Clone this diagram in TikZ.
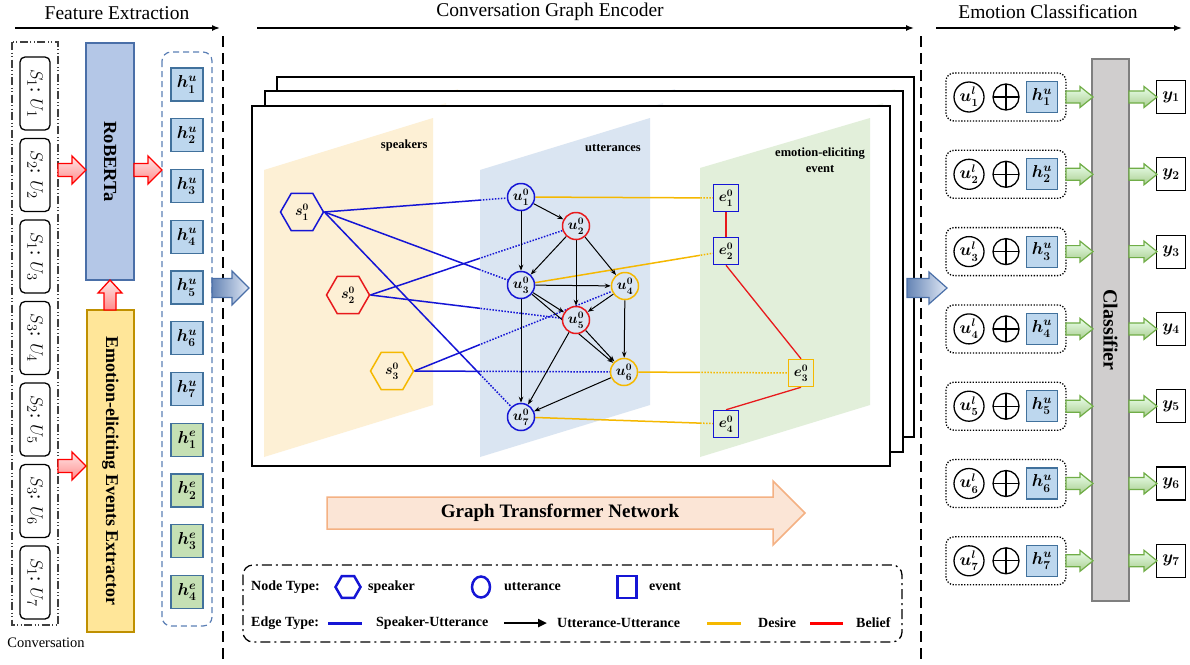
\documentclass[tikz,border=0pt]{standalone}
\usepackage{amsmath}
\usepackage{fontspec}
\setmainfont{Liberation Serif}
\usetikzlibrary{shapes.geometric,arrows.meta,calc}
\pgfdeclarelayer{lay0}\pgfdeclarelayer{lay1}
\pgfsetlayers{lay0,lay1,main}
\definecolor{cblue}{HTML}{1515D5}
\definecolor{cred}{HTML}{E8191C}
\definecolor{cyel}{HTML}{F5B800}
\definecolor{hub}{HTML}{BDD7EE}
\definecolor{hubd}{HTML}{41719C}
\definecolor{heg}{HTML}{C5E0B4}
\definecolor{robf}{HTML}{B4C7E7}
\definecolor{robd}{HTML}{4A6FA8}
\definecolor{emof}{HTML}{FFE699}
\definecolor{emod}{HTML}{BF9000}
\definecolor{spk}{HTML}{FDF0D5}
\definecolor{utt}{HTML}{DAE5F2}
\definecolor{evt}{HTML}{E2EFDA}
\definecolor{gtnf}{HTML}{FBE5D6}
\definecolor{gtnd}{HTML}{F4B183}
\definecolor{clsf}{HTML}{D0CECE}
\definecolor{clsd}{HTML}{7F7F7F}
\definecolor{grnd}{HTML}{70AD47}
\definecolor{dashb}{HTML}{5B7FB5}
\newcommand{\hArr}[7]{\path[#7] (#1,{#3-#4}) -- ({#2-#6},{#3-#4}) -- ({#2-#6},{#3-#5}) -- (#2,#3) -- ({#2-#6},{#3+#5}) -- ({#2-#6},{#3+#4}) -- (#1,{#3+#4}) -- cycle;}
\newcommand{\planeset}[1]{%
 \fill[spk,#1] (264,170) -- (433,118) -- (433,405) -- (264,457) -- cycle;
 \fill[utt,#1] (480,170) -- (650,118) -- (650,405) -- (480,457) -- cycle;
 \fill[evt,#1] (700,168) -- (870,118) -- (870,405) -- (700,457) -- cycle;}
\begin{document}
\begin{tikzpicture}[x=1pt,y=-1pt,
  hdr/.style={font=\fontsize{19.5}{20}\selectfont},
  uttbox/.style={draw, rounded corners=5, line width=1.3, rotate=-90, minimum width=73, minimum height=30, inner sep=0, font=\fontsize{19}{19}\selectfont},
  hbox/.style={draw=hubd, fill=hub, line width=1.2, minimum width=32, minimum height=33, inner sep=0, font=\fontsize{17.5}{17.5}\selectfont\boldmath},
  ebox/.style={hbox, fill=heg},
  spknode/.style={regular polygon, regular polygon sides=6, minimum size=43, inner sep=0, line width=1.5, fill=spk, font=\fontsize{14.5}{14.5}\selectfont\boldmath},
  uttnode/.style={circle, minimum size=27, inner sep=0, line width=1.5, fill=utt, font=\fontsize{14.5}{14.5}\selectfont\boldmath},
  evtnode/.style={rectangle, minimum width=25, minimum height=27, inner sep=0, line width=1.5, fill=evt, font=\fontsize{14.5}{14.5}\selectfont\boldmath},
  suedge/.style={draw=cblue, line width=1.5},
  uuedge/.style={draw=black, line width=1, -{Stealth[length=6pt,width=4.5pt]}},
  desire/.style={draw=cyel, line width=1.5},
  belief/.style={draw=cred, line width=1.3},
  dots/.style={dash pattern=on 1.5pt off 1.5pt},
  redarr/.style={draw=red, line width=1.3, top color=red!10, bottom color=red!45},
  bluearr/.style={draw=robd, line width=1.2, left color=robd!85, right color=robf!40},
  grnarr/.style={draw=grnd, line width=1.2, top color=green!8, bottom color=grnd!60},
  hdrarrow/.style={line width=1.5, -{Latex[length=8pt,width=6pt]}},
  vdash/.style={line width=1.6, dash pattern=on 11pt off 6pt},
  lgtext/.style={anchor=west, font=\bfseries\fontsize{14}{14}\selectfont, inner sep=0},
  rowbox/.style={draw, rounded corners=8, line width=1.3, dash pattern=on 1.3pt off 1.6pt, minimum width=120, minimum height=48},
  ulnode/.style={circle, draw, line width=1.3, minimum size=30, inner sep=0, font=\fontsize{16}{16}\selectfont\boldmath},
  opnode/.style={circle, draw, line width=1.3, minimum size=26, inner sep=0, fill=white, path picture={\draw[line width=1.3] (path picture bounding box.north) -- (path picture bounding box.south) (path picture bounding box.west) -- (path picture bounding box.east);}},
  ybox/.style={draw, line width=1.2, minimum width=29, minimum height=33, inner sep=0, fill=white, font=\fontsize{18}{18}\selectfont\boldmath}
]
\useasboundingbox (0,0) rectangle (1190,664);

% ---------- headers ----------
\node[hdr] (t1) at (117,13) {Feature Extraction};
\node[hdr] (t2) at (550,12) {Conversation Graph Encoder};
\node[hdr] (t3) at (1048,12) {Emotion Classification};
\coordinate (a1s) at (15,28); \coordinate (a1e) at (220,28);
\coordinate (a2s) at (257,28); \coordinate (a2e) at (914,28);
\coordinate (a3s) at (936,28); \coordinate (a3e) at (1182,28);
\draw[hdrarrow] (a1s) -- (a1e);
\draw[hdrarrow] (a2s) -- (a2e);
\draw[hdrarrow] (a3s) -- (a3e);
\coordinate (d1s) at (223,36); \coordinate (d1e) at (223,664);
\coordinate (d2s) at (921,36); \coordinate (d2e) at (921,664);
\draw[vdash] (d1s) -- (d1e);
\draw[vdash] (d2s) -- (d2e);

% ---------- feature extraction ----------
\draw[line width=1.2, draw=black!75, dash pattern=on 8pt off 2.5pt on 1pt off 2.5pt on 1pt off 2.5pt] (12,42) rectangle (58,625);
\node[font=\fontsize{14.5}{15}\selectfont] (convlbl) at (46,643) {Conversation};
\foreach \i/\s in {1/1,2/2,3/1,4/3,5/2,6/3,7/1}{
  \node[uttbox] (c\i) at (35,{93.5+81.5*(\i-1)}) {$S_{\s}$: $U_{\i}$};
}
\node[draw=robd, fill=robf, line width=1.3, rotate=-90, minimum width=237, minimum height=48, inner sep=0, font=\bfseries\fontsize{18.5}{19}\selectfont] (rob) at (110,161.5) {RoBERTa};
\node[draw=emod, fill=emof, line width=1.3, rotate=-90, minimum width=322, minimum height=47, inner sep=0, font=\bfseries\fontsize{18}{19}\selectfont] (emo) at (110.5,471) {Emotion-eliciting Events Extractor};
\draw[dashb, line width=1.2, rounded corners=9, dash pattern=on 6pt off 4pt] (162,52) rectangle (212,626);
\foreach \i in {1,...,7}{
  \node[hbox] (hu\i) at (187,{84.5+50.75*(\i-1)}) {$h^u_{\i}$};
}
\foreach \i in {1,...,4}{
  \node[ebox] (he\i) at (187,{84.5+50.75*(\i+6)}) {$h^e_{\i}$};
}
\hArr{58}{86}{170}{6.5}{14}{14}{redarr}
\hArr{58}{86}{466}{6.5}{14}{14}{redarr}
\hArr{134}{162}{170}{6.5}{14}{14}{redarr}
\path[redarr] (104,310) -- (104,293) -- (98,293) -- (110,280) -- (122,293) -- (116,293) -- (116,310) -- cycle;
\hArr{212}{249}{288}{9.5}{17}{17}{bluearr}
\hArr{907}{947}{288}{9.5}{16}{18}{bluearr}

% ---------- graph frames ----------
\begin{pgfonlayer}{lay0}
\fill[white] (277,77) rectangle (914,437);
\begin{scope}\clip (277,77) rectangle (914,437);
  \begin{scope}[shift={(25,-29)}]\planeset{opacity=0.55}\end{scope}
\end{scope}
\draw[line width=2] (277,77) rectangle (914,437);
\fill[white] (265,91) rectangle (903,452);
\begin{scope}\clip (265,91) rectangle (903,452);
  \begin{scope}[shift={(13,-15)}]\planeset{opacity=0.55}\end{scope}
\end{scope}
\draw[line width=2] (265,91) rectangle (903,452);
\fill[white] (252,106) rectangle (890,466);
\planeset{}
\draw[line width=2] (252,106) rectangle (890,466);
\end{pgfonlayer}

\node[anchor=east, font=\bfseries\fontsize{12.5}{13}\selectfont] (lspk) at (431,145) {speakers};
\node[font=\bfseries\fontsize{12.5}{13}\selectfont] (lutt) at (613,148) {utterances};
\node[align=center, font=\bfseries\fontsize{12.5}{16}\selectfont] (levt) at (820,160) {emotion-eliciting\\event};

% nodes
\node[spknode, draw=cblue] (s1) at (302,212) {$s^0_1$};
\node[spknode, draw=cred] (s2) at (348,295) {$s^0_2$};
\node[spknode, draw=cyel] (s3) at (392,371) {$s^0_3$};
\node[uttnode, draw=cblue] (u1) at (521,197) {$u^0_1$};
\node[uttnode, draw=cred] (u2) at (576,226) {$u^0_2$};
\node[uttnode, draw=cblue] (u3) at (521,285) {$u^0_3$};
\node[uttnode, draw=cyel] (u4) at (625,286) {$u^0_4$};
\node[uttnode, draw=cred] (u5) at (576,320) {$u^0_5$};
\node[uttnode, draw=cyel] (u6) at (624,372) {$u^0_6$};
\node[uttnode, draw=cblue] (u7) at (521,417) {$u^0_7$};
\node[evtnode, draw=cblue] (e1) at (726,198) {$e^0_1$};
\node[evtnode, draw=cblue] (e2) at (726,251) {$e^0_2$};
\node[evtnode, draw=cyel] (e3) at (801,373) {$e^0_3$};
\node[evtnode, draw=cblue] (e4) at (726,424) {$e^0_4$};

\begin{pgfonlayer}{lay1}
\begin{scope}
  \clip (0,0) rectangle (480,664);
  \foreach \a/\b in {s1/u1,s1/u3,s1/u7,s2/u2,s2/u5,s3/u4,s3/u6}{\draw[suedge] (\a.east) -- (\b);}
\end{scope}
\begin{scope}
  \clip (480,0) rectangle (1190,664);
  \foreach \a/\b in {s1/u1,s1/u3,s1/u7,s2/u2,s2/u5,s3/u4,s3/u6}{\draw[suedge, dots] (\a.east) -- (\b);}
\end{scope}
\begin{scope}
  \clip (0,0) rectangle (700,664);
  \foreach \a/\b in {u1/e1,u3/e2,u6/e3,u7/e4}{\draw[desire] (\a) -- (\b);}
\end{scope}
\begin{scope}
  \clip (700,0) rectangle (1190,664);
  \foreach \a/\b in {u1/e1,u3/e2,u6/e3,u7/e4}{\draw[desire, dots] (\a) -- (\b);}
\end{scope}
\foreach \a/\b in {u1/u2,u1/u3,u2/u3,u2/u4,u2/u5,u3/u4,u3/u5,u3/u6,u3/u7,u4/u5,u4/u6,u5/u6,u5/u7,u6/u7}{\draw[uuedge] (\a) -- (\b);}
\draw[belief] (e1) -- (e2);
\draw[belief] (e2.south) -- (e3.north);
\draw[belief] (e3.south) -- (e4.north);
\end{pgfonlayer}

% Graph transformer network arrow
\path[draw=gtnd, fill=gtnf, line width=1.5] (327,497) -- (773,497) -- (773,481) -- (805,513) -- (773,545) -- (773,529) -- (327,529) -- cycle;
\node[font=\bfseries\fontsize{19}{19}\selectfont] (gtn) at (560,513) {Graph Transformer Network};

% legend
\draw[line width=1.3, rounded corners=10, dash pattern=on 10pt off 4pt on 2pt off 4pt] (243,565) rectangle (902,642);
\node[lgtext] (lnt) at (251,587) {Node Type:};
\node[regular polygon, regular polygon sides=6, draw=cblue, line width=2.5, minimum size=25, inner sep=0] (lgs) at (348,587) {};
\node[lgtext] (lsp) at (368,587) {speaker};
\node[ellipse, draw=cblue, line width=2.5, minimum width=18, minimum height=21, inner sep=0] (lgu) at (481,587) {};
\node[lgtext] (lut) at (504,587) {utterance};
\node[rectangle, draw=cblue, line width=2.5, minimum width=19, minimum height=22, inner sep=0] (lge) at (627,587) {};
\node[lgtext] (lev) at (649,587) {event};
\node[lgtext] (let) at (251,623) {Edge Type:};
\coordinate (lb1) at (328,623); \coordinate (lb2) at (362,623);
\draw[cblue, line width=3] (lb1) -- (lb2);
\node[lgtext] (lsu) at (376,623) {Speaker-Utterance};
\coordinate (lk1) at (504,623); \coordinate (lk2) at (547,623);
\draw[line width=2.5, -{Triangle[length=9pt,width=8pt]}] (lk1) -- (lk2);
\node[lgtext] (luu) at (557,623) {Utterance-Utterance};
\coordinate (ly1) at (707,623); \coordinate (ly2) at (741,623);
\draw[cyel, line width=3] (ly1) -- (ly2);
\node[lgtext] (lde) at (758,623) {Desire};
\coordinate (lr1) at (810,623); \coordinate (lr2) at (843,623);
\draw[red, line width=3] (lr1) -- (lr2);
\node[lgtext] (lbe) at (856,623) {Belief};

% ---------- emotion classification ----------
\node[draw=clsd, fill=clsf, line width=1.5, rotate=-90, minimum width=542, minimum height=37, inner sep=0, font=\bfseries\fontsize{20}{20}\selectfont] (cls) at (1110.5,330) {Classifier};
\foreach \i in {1,...,7}{
  \pgfmathsetmacro{\yy}{97+77.3*(\i-1)}
  \node[rowbox] (row\i) at (1006,\yy) {};
  \node[ulnode] (ul\i) at (969,\yy) {$u^l_{\i}$};
  \node[opnode] (op\i) at (1006,\yy) {};
  \node[hbox, minimum width=31, minimum height=31] (hr\i) at (1042,\yy) {$h^u_{\i}$};
  \node[ybox] (y\i) at (1171,\yy) {$y_{\i}$};
  \hArr{1066}{1093}{\yy}{6}{10.5}{13}{grnarr}
  \hArr{1129}{1157}{\yy}{6}{10.5}{13}{grnarr}
}
\end{tikzpicture}
\end{document}
